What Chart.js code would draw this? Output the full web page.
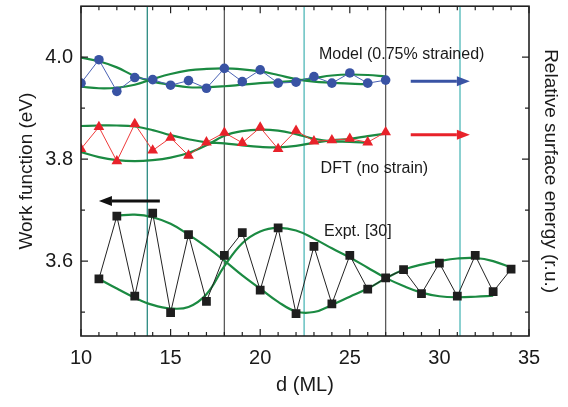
<!DOCTYPE html>
<html>
<head>
<meta charset="utf-8">
<script src="https://cdn.jsdelivr.net/npm/chart.js@4.4.0/dist/chart.umd.min.js"></script>
<style>
  html, body { margin: 0; padding: 0; background: #fff; }
</style>
</head>
<body>
<canvas id="myChart" width="568" height="407"></canvas>
<script>
// thickness in ML
const modelD = [10, 11, 12, 13, 14, 15, 16, 17, 18, 19, 20, 21, 22, 23, 24, 25, 26, 27];
const modelWF = [3.949, 3.995, 3.933, 3.960, 3.956, 3.945, 3.954, 3.939, 3.978, 3.952, 3.975, 3.949, 3.951, 3.962, 3.949, 3.969, 3.949, 3.955];

const dftD = [10, 11, 12, 13, 14, 15, 16, 17, 18, 19, 20, 21, 22, 23, 24, 25, 26, 27];
const dftWF = [3.820, 3.863, 3.796, 3.869, 3.817, 3.842, 3.807, 3.833, 3.852, 3.832, 3.862, 3.820, 3.856, 3.835, 3.837, 3.840, 3.833, 3.853];

const exptD = [11, 12, 13, 14, 15, 16, 17, 18, 19, 20, 21, 22, 23, 24, 25, 26, 27, 28, 29, 30, 31, 32, 33, 34];
const exptWF = [3.565, 3.688, 3.531, 3.694, 3.499, 3.652, 3.521, 3.611, 3.656, 3.543, 3.665, 3.497, 3.629, 3.516, 3.611, 3.545, 3.567, 3.583, 3.536, 3.596, 3.531, 3.611, 3.540, 3.584];

// green envelope curves
const modelEnvAD = [10, 11, 12, 13, 14, 15, 16, 17, 18, 19, 20, 21, 22, 23, 24, 25, 26, 27];
const modelEnvA = [3.999, 3.992, 3.980, 3.963, 3.952, 3.946, 3.941, 3.941, 3.943, 3.946, 3.949, 3.951, 3.954, 3.959, 3.964, 3.966, 3.965, 3.962];
const modelEnvBD = [10, 11, 12, 13, 14, 15, 16, 17, 18, 19, 20, 21, 22, 23, 24, 25, 26];
const modelEnvB = [3.942, 3.939, 3.940, 3.946, 3.957, 3.967, 3.974, 3.977, 3.978, 3.976, 3.972, 3.965, 3.957, 3.952, 3.950, 3.948, 3.947];

const dftEnvAD = [10, 11, 12, 13, 14, 15, 16, 17, 18, 19, 20, 21, 22, 23, 24, 25, 26, 27];
const dftEnvA = [3.865, 3.866, 3.866, 3.864, 3.857, 3.847, 3.839, 3.833, 3.831, 3.827, 3.824, 3.823, 3.826, 3.832, 3.837, 3.840, 3.845, 3.850];
const dftEnvBD = [10, 11, 12, 13, 14, 15, 16, 17, 18, 19, 20, 21, 22, 23, 24, 25, 26];
const dftEnvB = [3.814, 3.804, 3.798, 3.796, 3.798, 3.803, 3.812, 3.827, 3.846, 3.855, 3.858, 3.856, 3.849, 3.840, 3.835, 3.834, 3.832];

const exptEnvAD = [12, 13, 14, 15, 16, 17, 18, 19, 20, 21, 22, 23, 24, 25, 26, 27, 28, 29, 30, 31, 32, 33, 34];
const exptEnvA = [3.689, 3.691, 3.686, 3.673, 3.652, 3.628, 3.601, 3.572, 3.546, 3.520, 3.501, 3.500, 3.514, 3.530, 3.546, 3.566, 3.583, 3.593, 3.600, 3.605, 3.606, 3.600, 3.587];
const exptEnvBD = [11, 12, 13, 14, 15, 16, 17, 18, 19, 20, 21, 22, 23, 24, 25, 26, 27, 28, 29, 30, 31, 32, 33];
const exptEnvB = [3.565, 3.546, 3.528, 3.514, 3.507, 3.510, 3.535, 3.590, 3.635, 3.658, 3.665, 3.660, 3.644, 3.625, 3.607, 3.587, 3.567, 3.551, 3.538, 3.531, 3.529, 3.530, 3.532];

// vertical marker lines (ML)
const vLineD = [13.7, 18, 22.45, 27, 31.15];
const vLineColors = ['#2a8a80', '#5a5a5a', '#4fb8b8', '#5a5a5a', '#4fb8b8'];

const FONT = "'Liberation Sans', Arial, sans-serif";
const GREEN = '#1b8a42';

// annotations in data units
const arrows = [
    { x0: 28.4, x1: 31.7, y: 3.953, color: '#3953a4' },
    { x0: 28.4, x1: 31.7, y: 3.848, color: '#e8222a' },
    { x0: 14.4, x1: 11.0, y: 3.718, color: '#111111' }
];
const notes = [
    { text: 'Model (0.75% strained)', x: 23.28, y: 4.006 },
    { text: 'DFT (no strain)', x: 23.37, y: 3.782 },
    { text: 'Expt. [30]', x: 23.56, y: 3.657 }
];

function pts(xs, ys) {
    return xs.map((v, i) => ({ x: v, y: ys[i] }));
}

function envelope(xs, ys) {
    return {
        data: pts(xs, ys),
        borderColor: GREEN,
        borderWidth: 2.2,
        pointRadius: 0,
        tension: 0.4,
        fill: false
    };
}

const deco = {
    id: 'deco',
    beforeDatasetsDraw(chart) {
        const { ctx, chartArea: a, scales: { x } } = chart;
        ctx.save();
        vLineD.forEach((d, i) => {
            const px = x.getPixelForValue(d);
            ctx.strokeStyle = vLineColors[i];
            ctx.lineWidth = 1.3;
            ctx.beginPath();
            ctx.moveTo(px, a.top);
            ctx.lineTo(px, a.bottom);
            ctx.stroke();
        });
        ctx.restore();
    },
    afterDatasetsDraw(chart) {
        const { ctx, chartArea: a, scales: { x, y } } = chart;
        ctx.save();
        // frame
        ctx.strokeStyle = '#222';
        ctx.lineWidth = 1.6;
        ctx.strokeRect(a.left, a.top, a.right - a.left, a.bottom - a.top);
        // inward ticks
        ctx.lineWidth = 1.2;
        ctx.beginPath();
        x.ticks.forEach(t => {
            const px = x.getPixelForValue(t.value);
            const len = t.value % 5 === 0 ? 7 : 4;
            ctx.moveTo(px, a.bottom); ctx.lineTo(px, a.bottom - len);
            ctx.moveTo(px, a.top); ctx.lineTo(px, a.top + len);
        });
        y.ticks.forEach(t => {
            const py = y.getPixelForValue(t.value);
            const len = Math.round(t.value * 10) % 2 === 0 ? 7 : 4;
            ctx.moveTo(a.left, py); ctx.lineTo(a.left + len, py);
            ctx.moveTo(a.right, py); ctx.lineTo(a.right - len, py);
        });
        ctx.stroke();
        // arrows
        arrows.forEach(ar => {
            const x0 = x.getPixelForValue(ar.x0);
            const x1 = x.getPixelForValue(ar.x1);
            const py = y.getPixelForValue(ar.y);
            const dir = Math.sign(x1 - x0);
            const head = 13;
            ctx.strokeStyle = ar.color;
            ctx.fillStyle = ar.color;
            ctx.lineWidth = 3;
            ctx.beginPath();
            ctx.moveTo(x0, py);
            ctx.lineTo(x1 - dir * head, py);
            ctx.stroke();
            ctx.beginPath();
            ctx.moveTo(x1, py);
            ctx.lineTo(x1 - dir * head, py - 5);
            ctx.lineTo(x1 - dir * head, py + 5);
            ctx.closePath();
            ctx.fill();
        });
        // text labels
        ctx.fillStyle = '#1a1a1a';
        ctx.font = '16px ' + FONT;
        ctx.textAlign = 'left';
        ctx.textBaseline = 'middle';
        notes.forEach(n => {
            ctx.fillText(n.text, x.getPixelForValue(n.x), y.getPixelForValue(n.y));
        });
        ctx.restore();
    }
};

function noPad(s) {
    s.paddingTop = 0;
    s.paddingBottom = 0;
    s.paddingLeft = 0;
    s.paddingRight = 0;
}

const config = {
    type: 'line',
    data: {
        datasets: [
            {
                data: pts(modelD, modelWF),
                borderColor: '#4a62b4',
                borderWidth: 1,
                backgroundColor: '#3953a4',
                pointBackgroundColor: '#3953a4',
                pointBorderWidth: 0,
                pointRadius: 4.8,
                pointStyle: 'circle',
                tension: 0
            },
            {
                data: pts(dftD, dftWF),
                borderColor: '#ee3a3a',
                borderWidth: 1,
                pointBackgroundColor: '#e8222a',
                pointBorderWidth: 0,
                pointRadius: 6.2,
                pointStyle: 'triangle',
                tension: 0
            },
            {
                data: pts(exptD, exptWF),
                borderColor: '#222',
                borderWidth: 1,
                pointBackgroundColor: '#1e1e1e',
                pointBorderWidth: 0,
                pointRadius: 6.2,
                pointStyle: 'rect',
                tension: 0
            },
            envelope(modelEnvAD, modelEnvA),
            envelope(modelEnvBD, modelEnvB),
            envelope(dftEnvAD, dftEnvA),
            envelope(dftEnvBD, dftEnvB),
            envelope(exptEnvAD, exptEnvA),
            envelope(exptEnvBD, exptEnvB)
        ]
    },
    options: {
        responsive: false,
        animation: false,
        devicePixelRatio: 1,
        layout: { padding: { top: 5, left: 0, right: 0, bottom: 0 } },
        plugins: { legend: { display: false }, tooltip: { enabled: false } },
        scales: {
            x: {
                type: 'linear',
                min: 10,
                max: 35,
                grid: { display: false, drawTicks: false },
                border: { display: false },
                ticks: {
                    stepSize: 1,
                    autoSkip: false,
                    maxRotation: 0,
                    padding: 10,
                    color: '#1a1a1a',
                    font: { family: FONT, size: 20 },
                    callback: v => (v % 5 === 0 ? String(v) : '')
                },
                title: {
                    display: true,
                    text: 'd (ML)',
                    color: '#1a1a1a',
                    font: { family: FONT, size: 20 },
                    padding: { top: 0, bottom: 10 }
                },
                afterFit: s => { s.height = 71; noPad(s); }
            },
            y: {
                type: 'linear',
                position: 'left',
                min: 3.453,
                max: 4.1,
                grid: { display: false, drawTicks: false },
                border: { display: false },
                ticks: {
                    stepSize: 0.1,
                    includeBounds: false,
                    padding: 8,
                    color: '#1a1a1a',
                    font: { family: FONT, size: 20 },
                    callback: v => {
                        const k = Math.round(v * 10);
                        return (k % 2 === 0 && k >= 36 && k <= 40) ? (k / 10).toFixed(1) : '';
                    }
                },
                title: {
                    display: true,
                    text: 'Work function (eV)',
                    color: '#1a1a1a',
                    font: { family: FONT, size: 19 },
                    padding: { top: 15, bottom: 0 }
                },
                afterFit: s => { s.width = 81; noPad(s); }
            },
            y2: {
                type: 'linear',
                position: 'right',
                min: 3.453,
                max: 4.1,
                grid: { display: false, drawTicks: false },
                border: { display: false },
                ticks: { display: false },
                title: {
                    display: true,
                    text: 'Relative surface energy (r.u.)',
                    color: '#1a1a1a',
                    font: { family: FONT, size: 19 },
                    padding: { top: 6, bottom: 0 }
                },
                afterFit: s => { s.width = 39; noPad(s); }
            }
        }
    },
    plugins: [deco]
};

const myChart = new Chart(document.getElementById('myChart'), config);
</script>
</body>
</html>
